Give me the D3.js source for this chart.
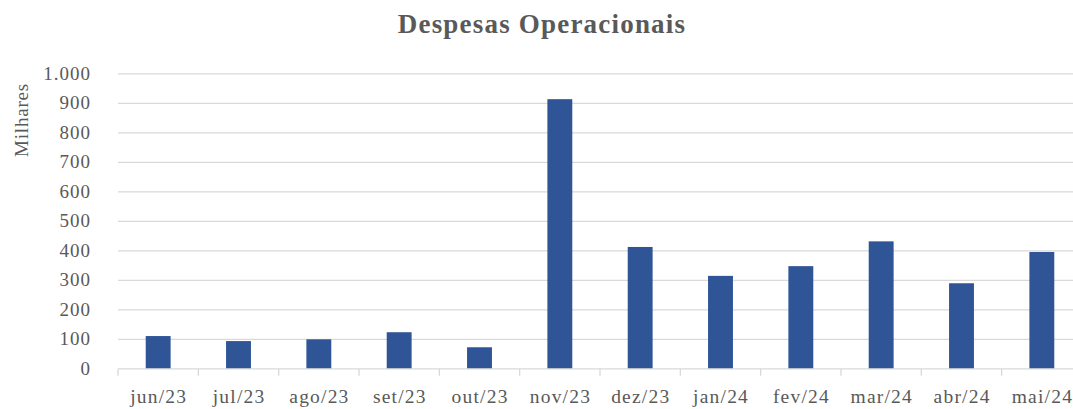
<!DOCTYPE html>
<html><head><meta charset="utf-8">
<script src="https://cdn.jsdelivr.net/npm/d3@7"></script>
<style>body{margin:0;background:#fff}svg{display:block}</style>
</head><body>
<svg id="c" width="1073" height="409"></svg>
<script>
const categories = ["jun/23","jul/23","ago/23","set/23","out/23","nov/23","dez/23","jan/24","fev/24","mar/24","abr/24","mai/24"];
const values = [111, 94, 100, 124, 73, 914, 413, 315, 348, 432, 290, 396];
const yTicks = [0,100,200,300,400,500,600,700,800,900,1000];
const yTickLabels = ["0","100","200","300","400","500","600","700","800","900","1.000"];
const title = "Despesas Operacionais";
const yTitle = "Milhares";

(function () {
const svg = d3.select("#c");
const font = "'Liberation Serif','Times New Roman',serif";
const txt = "#595959";
const pLeft = 118, pRight = 1082, pTop = 73.8, pBottom = 368.8;

const x = d3.scaleBand().domain(categories).range([pLeft, pRight]).paddingInner(0.69).paddingOuter(0.345);
const xb = d3.scaleBand().domain(categories).range([pLeft, pRight]);
const y = d3.scaleLinear().domain([0, 1000]).range([pBottom, pTop]);

// gridlines
svg.append("g").selectAll("line").data(yTicks.filter(d => d > 0)).join("line")
  .attr("x1", pLeft).attr("x2", pRight)
  .attr("y1", d => y(d)).attr("y2", d => y(d))
  .attr("stroke", "#d9d9d9").attr("stroke-width", 1.3);

// bars
svg.append("g").selectAll("rect").data(values).join("rect")
  .attr("x", (d, i) => x(categories[i]))
  .attr("width", x.bandwidth())
  .attr("y", d => y(d))
  .attr("height", d => y(0) - y(d))
  .attr("fill", "#2f5597");

// x axis line + ticks
svg.append("line").attr("x1", pLeft).attr("x2", pRight).attr("y1", pBottom).attr("y2", pBottom)
  .attr("stroke", "#d9d9d9").attr("stroke-width", 1.3);
const bounds = categories.map(c => xb(c)).concat([pRight]);
svg.append("g").selectAll("line").data(bounds).join("line")
  .attr("x1", d => d).attr("x2", d => d).attr("y1", pBottom).attr("y2", pBottom + 7)
  .attr("stroke", "#d9d9d9").attr("stroke-width", 1.3);

// x labels
svg.append("g").selectAll("text").data(categories).join("text")
  .attr("x", d => xb(d) + xb.bandwidth() / 2 + 0.6).attr("y", 403)
  .attr("text-anchor", "middle")
  .attr("font-family", font).attr("font-size", 19.5).attr("letter-spacing", 1.2).attr("fill", txt)
  .text(d => d);

// y labels
svg.append("g").selectAll("text").data(yTicks).join("text")
  .attr("x", 91).attr("y", d => y(d) + 6)
  .attr("text-anchor", "end")
  .attr("font-family", font).attr("font-size", 19).attr("letter-spacing", 1).attr("fill", txt)
  .text((d, i) => yTickLabels[i]);

// y title
svg.append("text")
  .attr("transform", "translate(28,120) rotate(-90)")
  .attr("text-anchor", "middle")
  .attr("font-family", font).attr("font-size", 19).attr("letter-spacing", 0.8).attr("fill", txt)
  .text(yTitle);

// title
svg.append("text")
  .attr("x", 542).attr("y", 33)
  .attr("text-anchor", "middle")
  .attr("font-family", font).attr("font-size", 27).attr("letter-spacing", 1.2).attr("font-weight", "bold").attr("fill", txt)
  .text(title);
})();
</script>
</body></html>
